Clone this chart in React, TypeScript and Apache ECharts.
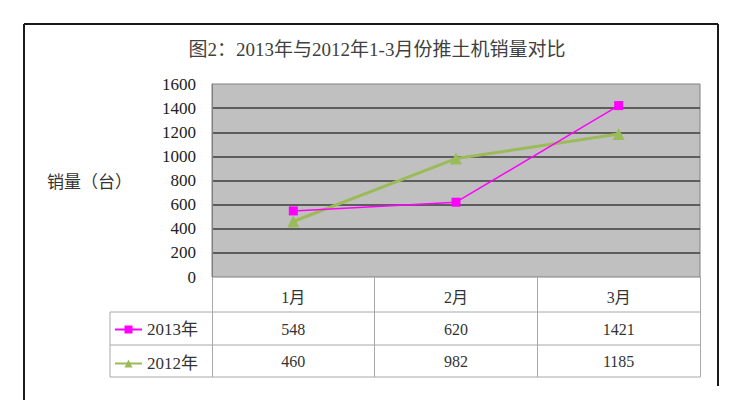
import React, { useEffect, useRef } from "react";
import * as echarts from "echarts";

const months = ["1月", "2月", "3月"];
const sales2013 = [548, 620, 1421];
const sales2012 = [460, 982, 1185];
const seriesNames = ["2013年", "2012年"];
const yTicks = { min: 0, max: 1600, interval: 200 };
const titleText = "图2：2013年与2012年1-3月份推土机销量对比";
const yName = "销量（台）";

const FONT = "Liberation Serif, DejaVu Serif, Noto Sans CJK SC, serif";

export default function App() {
  const ref = useRef<HTMLDivElement>(null);
  useEffect(() => {
    document.body.style.margin = "0";
    const chart = echarts.init(ref.current!, null, { renderer: "svg" });
    const gridLeft = 212;
    const gridRight = 700;
    const gridTop = 84;
    const gridBottom = 277;
    const tableLine = { stroke: "#a8a8a8", lineWidth: 1 };
    const frame = { stroke: "#1a1a1a", lineWidth: 2 };
    chart.setOption({
      animation: false,
      backgroundColor: "#ffffff",
      textStyle: { fontFamily: FONT },
      title: {
        text: titleText,
        left: 372,
        textAlign: "center",
        top: 35,
        textStyle: { fontFamily: FONT, fontSize: 19, fontWeight: "normal", color: "#404040" },
      },
      legend: {
        data: seriesNames,
        orient: "vertical",
        left: 114,
        top: 321,
        itemWidth: 27,
        itemHeight: 10,
        itemGap: 17,
        padding: 0,
        textStyle: { fontFamily: FONT, fontSize: 17, color: "#333" },
      },
      grid: {
        left: gridLeft,
        right: 751 - gridRight,
        top: gridTop,
        height: gridBottom - gridTop,
        show: true,
        backgroundColor: "#c0c0c0",
        borderColor: "#808080",
        borderWidth: 1,
      },
      xAxis: [
        {
          type: "category",
          data: months,
          axisLine: { show: false },
          axisTick: { show: true, length: 100, interval: 0, lineStyle: { color: "#a8a8a8", width: 1 } },
          axisLabel: { margin: 12, fontFamily: FONT, fontSize: 16, color: "#333" },
        },
        {
          type: "category",
          data: months,
          position: "bottom",
          axisLine: { show: false },
          axisTick: { show: false },
          axisLabel: {
            margin: 44,
            fontFamily: FONT,
            fontSize: 16,
            color: "#333",
            formatter: (_v: string, i: number) => String(sales2013[i]),
          },
        },
        {
          type: "category",
          data: months,
          position: "bottom",
          axisLine: { show: false },
          axisTick: { show: false },
          axisLabel: {
            margin: 76,
            fontFamily: FONT,
            fontSize: 16,
            color: "#333",
            formatter: (_v: string, i: number) => String(sales2012[i]),
          },
        },
      ],
      yAxis: {
        type: "value",
        min: yTicks.min,
        max: yTicks.max,
        interval: yTicks.interval,
        axisLine: { show: true, lineStyle: { color: "#808080" } },
        axisTick: { show: false },
        axisLabel: {
          margin: 16,
          fontFamily: FONT,
          fontSize: 17,
          color: "#222",
          formatter: (v: number) => String(v),
        },
        splitLine: {
          show: true,
          showMinLine: false,
          showMaxLine: false,
          lineStyle: { color: "#3c3c3c", width: 1.5 },
        },
      },
      series: [
        {
          name: seriesNames[0],
          type: "line",
          data: sales2013,
          symbol: "rect",
          symbolSize: 9,
          color: "#ff00ff",
          lineStyle: { color: "#ff00ff", width: 1.5 },
          itemStyle: { color: "#ff00ff" },
          z: 3,
        },
        {
          name: seriesNames[1],
          type: "line",
          data: sales2012,
          symbol: "triangle",
          symbolSize: 12,
          color: "#9bbb59",
          lineStyle: { color: "#9bbb59", width: 3 },
          itemStyle: { color: "#9bbb59" },
          z: 2,
        },
      ],
      graphic: [
        { type: "line", shape: { x1: 24, y1: 24, x2: 718, y2: 24 }, style: frame },
        { type: "line", shape: { x1: 24, y1: 24, x2: 24, y2: 400 }, style: frame },
        { type: "line", shape: { x1: 718, y1: 24, x2: 718, y2: 386 }, style: frame },
        { type: "line", shape: { x1: 110, y1: 312, x2: 700, y2: 312 }, style: tableLine },
        { type: "line", shape: { x1: 110, y1: 345, x2: 700, y2: 345 }, style: tableLine },
        { type: "line", shape: { x1: 110, y1: 377, x2: 700, y2: 377 }, style: tableLine },
        { type: "line", shape: { x1: 110, y1: 312, x2: 110, y2: 377 }, style: tableLine },
        {
          type: "text",
          left: 47,
          top: 174,
          style: { text: yName, font: `17px ${FONT}`, fill: "#333" },
        },
      ],
    });
    return () => chart.dispose();
  }, []);
  return <div ref={ref} style={{ width: 751, height: 400 }} />;
}
